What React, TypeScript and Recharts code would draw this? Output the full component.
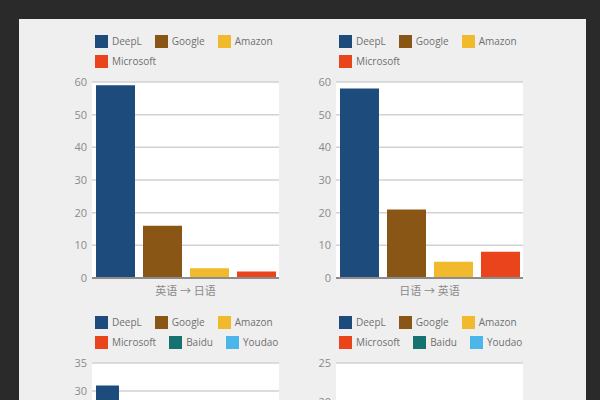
import { BarChart, Bar, XAxis, YAxis, CartesianGrid, Legend } from 'recharts';

const providers = ['DeepL', 'Google', 'Amazon', 'Microsoft', 'Baidu', 'Youdao'];
const colors = ['#1c4b7c', '#8a5616', '#f0ba2c', '#e9441b', '#15726e', '#4ab6ea'];

const pairs = ['英语 → 日语', '日语 → 英语', '中文 → 日语', '日语 → 中文'];

const enJa = [59, 16, 3, 2];
const jaEn = [58, 21, 5, 8];
const zhJa = [31, 22, 8, 6, 12, 15];
const jaZh = [19, 14, 5, 4, 9, 11];

const ticks60 = [0, 10, 20, 30, 40, 50, 60];
const ticks35 = [0, 5, 10, 15, 20, 25, 30, 35];
const ticks25 = [0, 5, 10, 15, 20, 25];

const FONT = '"Open Sans", "Noto Sans CJK SC", sans-serif';

function LegendBox({ keys }: { keys: string[] }) {
  return (
    <div style={{ display: 'flex', flexWrap: 'wrap', width: 200, height: 40 }}>
      {keys.map(k => (
        <div key={k} style={{ display: 'flex', alignItems: 'center', height: 20, marginRight: 13 }}>
          <span style={{ width: 13, height: 13, background: colors[providers.indexOf(k)], marginRight: 4 }} />
          <span style={{ fontSize: 10, color: '#6f6f6f', fontFamily: FONT }}>{k}</span>
        </div>
      ))}
    </div>
  );
}

interface PanelProps {
  left: number;
  top: number;
  label: string;
  values: number[];
  ticks: number[];
}

function Panel({ left, top, label, values, ticks }: PanelProps) {
  const keys = providers.slice(0, values.length);
  const row: Record<string, string | number> = { name: label };
  keys.forEach((k, i) => { row[k] = values[i]; });
  const data = [row];

  return (
    <div style={{ position: 'absolute', left, top }}>
      <BarChart
        width={250}
        height={310}
        data={data}
        margin={{ top: 42, right: 11, left: 0, bottom: 8 }}
        barCategoryGap={4}
        barGap={8}
      >
        <Legend
          verticalAlign="top"
          content={() => <LegendBox keys={keys} />}
          wrapperStyle={{ top: 31, left: 55, width: 200, height: 40 }}
        />
        <CartesianGrid vertical={false} fill="#ffffff" stroke="#d2d2d2" strokeWidth={1.5} />
        <XAxis
          dataKey="name"
          height={24}
          tickSize={5}
          tickMargin={4}
          tickLine={false}
          axisLine={{ stroke: '#8c8c8c', strokeWidth: 2 }}
          tick={{ fontSize: 11, fill: '#8a8a8a', fontFamily: FONT }}
        />
        <YAxis
          width={52}
          domain={[0, ticks[ticks.length - 1]]}
          ticks={ticks}
          interval={0}
          tickSize={3}
          tickMargin={2}
          tickLine={false}
          axisLine={false}
          tick={{ fontSize: 11, fill: '#8a8a8a', fontFamily: FONT }}
        />
        {keys.map((k, i) => (
          <Bar key={k} dataKey={k} fill={colors[i]} isAnimationActive={false} />
        ))}
      </BarChart>
    </div>
  );
}

export default function App() {
  return (
    <div style={{ position: 'absolute', left: 0, top: 0, width: 600, height: 400, overflow: 'hidden', background: '#2a2a2a', fontFamily: FONT }}>
      <div style={{ position: 'absolute', left: 19, top: 19, width: 567, height: 400, background: '#efefef' }} />
      <Panel left={40} top={0} label={pairs[0]} values={enJa} ticks={ticks60} />
      <Panel left={284} top={0} label={pairs[1]} values={jaEn} ticks={ticks60} />
      <Panel left={40} top={281} label={pairs[2]} values={zhJa} ticks={ticks35} />
      <Panel left={284} top={281} label={pairs[3]} values={jaZh} ticks={ticks25} />
    </div>
  );
}
